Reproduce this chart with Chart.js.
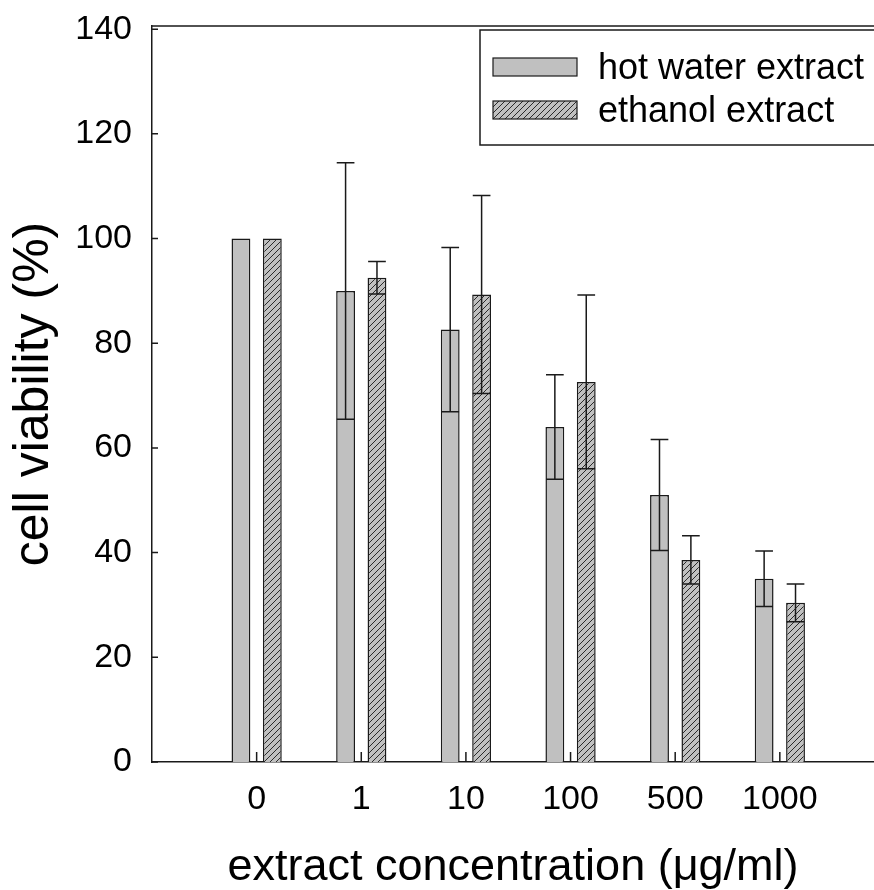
<!DOCTYPE html>
<html>
<head>
<meta charset="utf-8">
<script src="https://cdn.jsdelivr.net/npm/chart.js@4.4.1/dist/chart.umd.min.js"></script>
<style>
  html, body { margin: 0; padding: 0; background: #fff; }
  #wrap { width: 874px; height: 890px; position: relative; }
</style>
</head>
<body>
<div id="wrap"><canvas id="viabilityChart"></canvas></div>
<script>
// values
const concentrations = ["0", "1", "10", "100", "500", "1000"];
const hotWater = [100, 90, 82.6, 64, 51, 35];
const hotWaterErr = [0, 24.5, 15.7, 10, 10.6, 5.3];
const ethanol = [100, 92.5, 89.3, 72.6, 38.6, 30.4];
const ethanolErr = [0, 3.1, 18.9, 16.6, 4.6, 3.6];
const yTicks = [0, 20, 40, 60, 80, 100, 120, 140];

const FONT = "'Liberation Sans', Arial, sans-serif";
const INK = "#1a1a1a";
const GRAY = "#c0c0c0";

function makeHatch() {
  const c = document.createElement("canvas");
  c.width = 6; c.height = 6;
  const g = c.getContext("2d");
  g.fillStyle = GRAY;
  g.fillRect(0, 0, 6, 6);
  g.strokeStyle = "#2a2a2a";
  g.lineWidth = 1;
  g.beginPath();
  g.moveTo(-1, 7); g.lineTo(7, -1);
  g.moveTo(-4, 4); g.lineTo(4, -4);
  g.moveTo(2, 10); g.lineTo(10, 2);
  g.stroke();
  return g.createPattern(c, "repeat");
}
const hatch = makeHatch();

const errors = [hotWaterErr, ethanolErr];

const decorations = {
  id: "decorations",
  afterDatasetsDraw(chart) {
    const { ctx, scales: { y } } = chart;
    ctx.save();
    ctx.strokeStyle = INK;
    ctx.lineWidth = 1.5;
    chart.data.datasets.forEach((ds, di) => {
      const meta = chart.getDatasetMeta(di);
      meta.data.forEach((bar, i) => {
        const err = errors[di][i];
        if (!err) return;
        const v = ds.data[i].y;
        const top = y.getPixelForValue(v + err);
        const bot = y.getPixelForValue(v - err);
        const half = bar.width * 0.47;
        ctx.beginPath();
        ctx.moveTo(bar.x, top); ctx.lineTo(bar.x, bot);
        ctx.moveTo(bar.x - half, top); ctx.lineTo(bar.x + half, top);
        ctx.moveTo(bar.x - half, bot); ctx.lineTo(bar.x + half, bot);
        ctx.stroke();
      });
    });
    ctx.restore();
  },
  afterDraw(chart) {
    const { ctx, chartArea: a, scales: { x, y } } = chart;
    ctx.save();
    ctx.strokeStyle = INK;
    ctx.lineWidth = 1.5;
    ctx.beginPath();
    // inward tick marks
    yTicks.forEach(v => {
      const py = y.getPixelForValue(v);
      ctx.moveTo(a.left, py); ctx.lineTo(a.left + 6, py);
    });
    concentrations.forEach((_, i) => {
      const px = x.getPixelForValue(i);
      ctx.moveTo(px, a.bottom); ctx.lineTo(px, a.bottom - 10);
    });
    // top frame line
    ctx.moveTo(a.left, a.top); ctx.lineTo(a.right, a.top);
    ctx.stroke();

    // legend box
    const lx = a.right - 394, ly = a.top + 4;
    ctx.fillStyle = "#fff";
    ctx.fillRect(lx, ly, 400, 115);
    ctx.strokeRect(lx, ly, 400, 115);
    ctx.font = "36px " + FONT;
    ctx.textBaseline = "middle";
    ctx.textAlign = "left";
    chart.data.datasets.forEach((ds, di) => {
      const sy = ly + 28 + di * 43;
      ctx.fillStyle = ds.backgroundColor;
      ctx.fillRect(lx + 13, sy, 84, 18);
      ctx.lineWidth = 1.2;
      ctx.strokeRect(lx + 13, sy, 84, 18);
      ctx.fillStyle = "#000";
      ctx.fillText(ds.label, lx + 118, sy + 11);
    });
    ctx.restore();
  }
};

const ctx = document.getElementById("viabilityChart").getContext("2d");

new Chart(ctx, {
  type: "bar",
  data: {
    datasets: [
      {
        label: "hot water extract",
        data: hotWater.map((v, i) => ({ x: i, y: v })),
        backgroundColor: GRAY,
        borderColor: INK,
        borderWidth: 1.5,
      },
      {
        label: "ethanol extract",
        data: ethanol.map((v, i) => ({ x: i, y: v })),
        backgroundColor: hatch,
        borderColor: INK,
        borderWidth: 1.5,
      },
    ],
  },
  options: {
    responsive: true,
    maintainAspectRatio: false,
    animation: false,
    categoryPercentage: 0.6,
    barPercentage: 0.6,
    layout: { padding: { top: 26, right: 0, bottom: 0, left: 0 } },
    plugins: {
      legend: { display: false },
      tooltip: { enabled: false },
    },
    scales: {
      x: {
        type: "linear",
        offset: false,
        min: -1,
        max: 5.9,
        grid: { display: false, drawTicks: false },
        border: { display: true, color: INK, width: 1.5 },
        afterBuildTicks: s => { s.ticks = concentrations.map((_, i) => ({ value: i })); },
        afterFit: s => { s.height = 128; s.paddingLeft = 0; s.paddingRight = 0; },
        ticks: {
          color: "#000",
          font: { family: FONT, size: 34 },
          padding: 17,
          callback: v => concentrations[v] ?? "",
        },
        title: {
          display: true,
          text: "extract concentration (μg/ml)",
          color: "#000",
          font: { family: FONT, size: 45, lineHeight: 1 },
          padding: 0,
        },
      },
      y: {
        min: 0,
        max: 140.6,
        grid: { display: false, drawTicks: false },
        border: { display: true, color: INK, width: 1.5 },
        afterBuildTicks: s => { s.ticks = yTicks.map(v => ({ value: v })); },
        afterFit: s => { s.width = 152; s.paddingTop = 0; s.paddingBottom = 0; },
        ticks: {
          color: "#000",
          font: { family: FONT, size: 34 },
          padding: 20,
        },
        title: {
          display: true,
          text: "cell viability (%)",
          color: "#000",
          font: { family: FONT, size: 50, lineHeight: 1 },
          padding: { top: 9, bottom: 0 },
        },
      },
    },
  },
  plugins: [decorations],
});
</script>
</body>
</html>
